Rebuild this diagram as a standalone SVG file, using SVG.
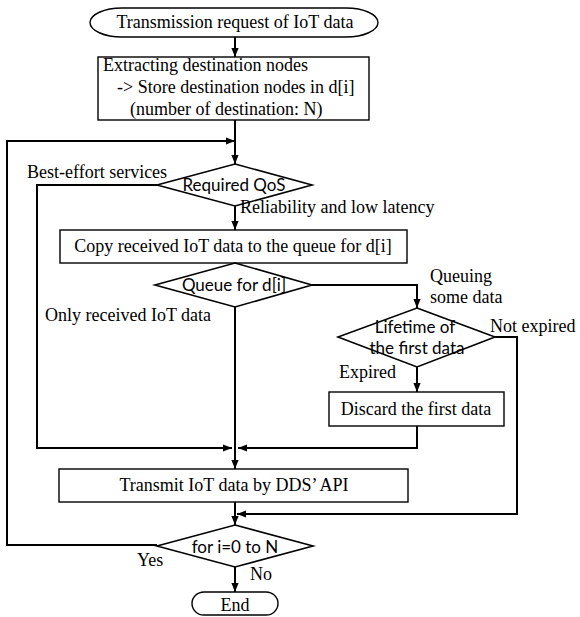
<svg xmlns="http://www.w3.org/2000/svg" width="580" height="617" viewBox="0 0 580 617">
  <style>
    .shape { fill: #ffffff; stroke: #000000; stroke-width: 1.4; }
    .diamond { fill: #ffffff; stroke: #000000; stroke-width: 1.6; }
    .wire { fill: none; stroke: #000000; stroke-width: 2; }
    .serif { font-family: "Liberation Serif", "Times New Roman", serif; font-size: 18px; fill: #000000; }
    .sans { font-family: Lato, "Noto Sans", sans-serif; font-size: 17px; fill: #000000; }
    .mid { text-anchor: middle; }
  </style>
  <defs>
    <marker id="ah" viewBox="0 0 10 8" refX="10" refY="4" markerWidth="9" markerHeight="8" markerUnits="userSpaceOnUse" orient="auto">
      <path d="M0,0 L10,4 L0,8 z" fill="#000000"/>
    </marker>
  </defs>

  <rect width="580" height="617" fill="#ffffff"/>

  <!-- connectors -->
  <g id="connectors">
    <line class="wire" x1="235" y1="37" x2="235" y2="57" marker-end="url(#ah)"/>
    <line class="wire" x1="235" y1="120" x2="235" y2="164" marker-end="url(#ah)"/>
    <!-- loop back from "Yes" -->
    <polyline class="wire" points="157,545 7,545 7,141 235,141" marker-end="url(#ah)"/>
    <!-- best-effort bypass -->
    <polyline class="wire" points="157,185 37,185 37,448 232,448" marker-end="url(#ah)"/>
    <line class="wire" x1="235" y1="206" x2="235" y2="230" marker-end="url(#ah)"/>
    <!-- queue has data -->
    <polyline class="wire" points="312,285 417,285 417,308" marker-end="url(#ah)"/>
    <!-- only received data -->
    <line class="wire" x1="235" y1="307" x2="235" y2="469" marker-end="url(#ah)"/>
    <line class="wire" x1="417" y1="367" x2="417" y2="392" marker-end="url(#ah)"/>
    <polyline class="wire" points="417,426 417,448 238,448" marker-end="url(#ah)"/>
    <!-- not expired -->
    <polyline class="wire" points="495,337 517,337 517,514 237,514" marker-end="url(#ah)"/>
    <line class="wire" x1="235" y1="502" x2="235" y2="525" marker-end="url(#ah)"/>
    <line class="wire" x1="235" y1="567" x2="235" y2="592" marker-end="url(#ah)"/>
  </g>

  <g id="start">
    <rect class="shape" x="90" y="8" width="288" height="29" rx="32" ry="14.5"/>
    <text class="serif mid" x="235" y="28">Transmission request of IoT data</text>
  </g>

  <g id="extract">
    <rect class="shape" x="98" y="57" width="271" height="63"/>
    <text class="serif" x="103" y="71">Extracting destination nodes</text>
    <text class="serif" x="117" y="93">-&gt; Store destination nodes in d[i]</text>
    <text class="serif" x="130" y="115">(number of destination: N)</text>
  </g>

  <g id="qos">
    <polygon class="diamond" points="235,164 312,185 235,206 157,185"/>
    <text class="sans mid" x="234" y="191">Required QoS</text>
  </g>

  <g id="copy">
    <rect class="shape" x="60" y="230" width="347" height="33"/>
    <text class="serif mid" x="233" y="252">Copy received IoT data to the queue for d[i]</text>
  </g>

  <g id="queue">
    <polygon class="diamond" points="235,263 312,285 235,307 155,285"/>
    <text class="sans mid" x="234" y="291">Queue for d[i]</text>
  </g>

  <g id="lifetime">
    <polygon class="diamond" points="417,308 495,337 417,367 338,337"/>
    <text class="sans mid" x="415" y="333">Lifetime of</text>
    <text class="sans mid" x="417" y="354">the first data</text>
  </g>

  <g id="discard">
    <rect class="shape" x="329" y="392" width="175" height="34"/>
    <text class="serif mid" x="416" y="415">Discard the first data</text>
  </g>

  <g id="transmit">
    <rect class="shape" x="59" y="469" width="349" height="33"/>
    <text class="serif mid" x="234" y="491">Transmit IoT data by DDS’ API</text>
  </g>

  <g id="loop">
    <polygon class="diamond" points="235,525 313,546 235,567 157,546"/>
    <text class="sans mid" x="235" y="553">for i=0 to N</text>
  </g>

  <g id="end">
    <rect class="shape" x="192" y="592" width="86" height="23" rx="12" ry="11.5"/>
    <text class="serif mid" x="235" y="611">End</text>
  </g>

  <!-- branch labels -->
  <g id="labels">
    <text class="serif" x="27" y="178">Best-effort services</text>
    <text class="serif" x="240" y="213">Reliability and low latency</text>
    <text class="serif" x="430" y="282">Queuing</text>
    <text class="serif" x="430" y="303">some data</text>
    <text class="serif" x="45" y="321">Only received IoT data</text>
    <text class="serif" x="490" y="332">Not expired</text>
    <text class="serif" x="339" y="378">Expired</text>
    <text class="serif" x="137" y="566">Yes</text>
    <text class="serif" x="250" y="580">No</text>
  </g>
</svg>
